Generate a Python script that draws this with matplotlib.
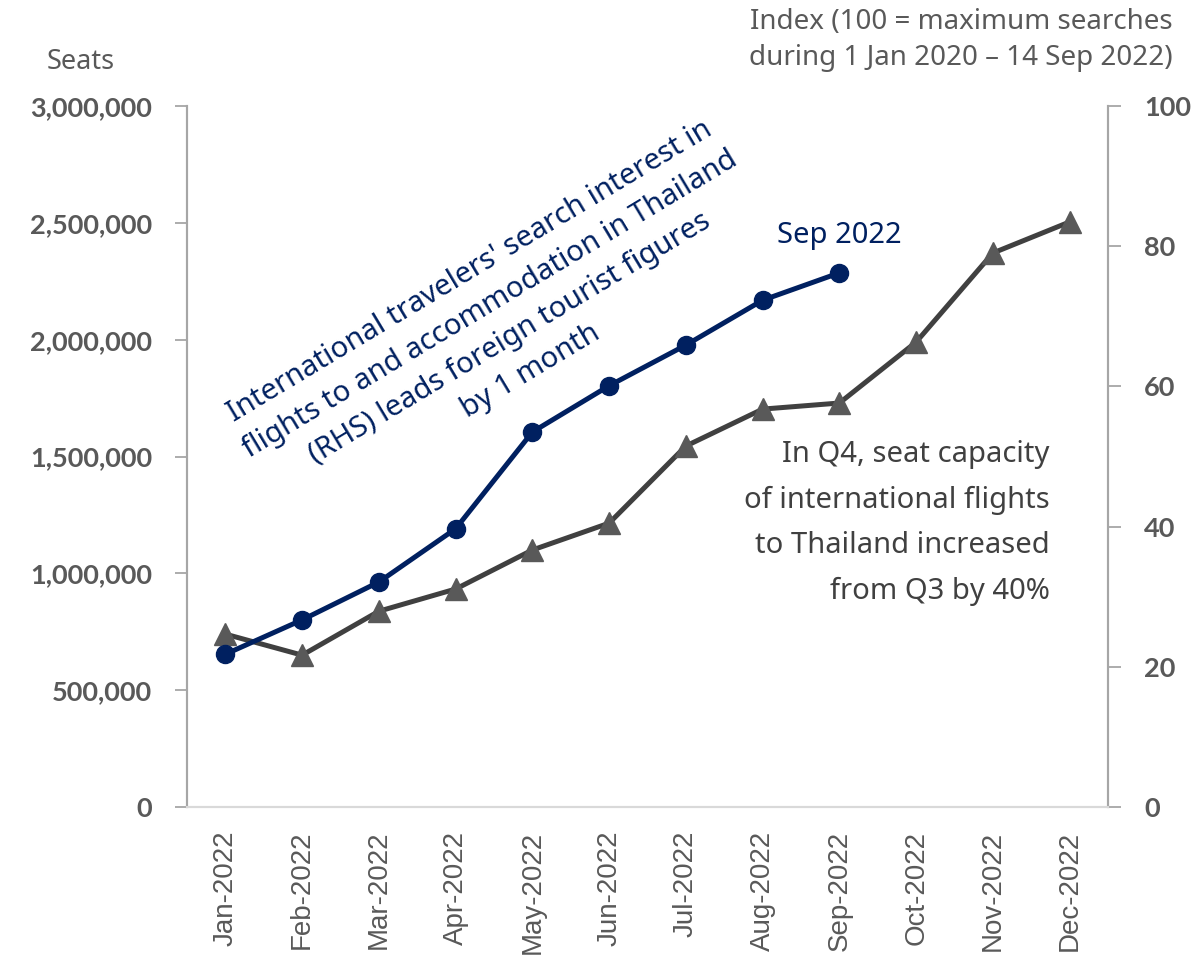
import matplotlib.pyplot as plt
import numpy as np

months = ["Jan-2022", "Feb-2022", "Mar-2022", "Apr-2022", "May-2022", "Jun-2022",
          "Jul-2022", "Aug-2022", "Sep-2022", "Oct-2022", "Nov-2022", "Dec-2022"]

# seat capacity of international flights (LHS)
seats = [740000, 650000, 838000, 933000, 1100000, 1215000,
         1545000, 1703000, 1729000, 1990000, 2371000, 2504000]

# search interest index (RHS), available through Sep
search_index = [21.8, 26.7, 32.1, 39.7, 53.5, 60.1, 65.9, 72.3, 76.2]

left_ticks = [0, 500000, 1000000, 1500000, 2000000, 2500000, 3000000]
right_ticks = [0, 20, 40, 60, 80, 100]

NAVY = "#002060"
DARK = "#404040"
TRI = "#595959"
TXT = "#595959"
SPINE = "#A6A6A6"

plt.rcParams["font.family"] = ["Noto Sans", "DejaVu Sans"]

fig = plt.figure(figsize=(12.01, 9.57), dpi=100)
ax = fig.add_axes([0.1557, 0.1567, 0.7669, 0.7325])
ax2 = ax.twinx()

x = np.arange(len(months))
ax.plot(x, seats, color=DARK, lw=3.6, marker="^", ms=16,
        markerfacecolor=TRI, markeredgecolor=TRI, zorder=3)
ax2.plot(x[:len(search_index)], search_index, color=NAVY, lw=3.6, marker="o",
         ms=13, markerfacecolor=NAVY, markeredgecolor=NAVY, zorder=4)

ax.set_xlim(-0.5, len(months) - 0.5)
ax.set_ylim(0, 3000000)
ax2.set_ylim(0, 100)

tick_font = dict(family=["Lato", "DejaVu Sans"], fontweight="bold",
                 fontsize=19.5, color=TXT)
ax.set_yticks(left_ticks)
ax.set_yticklabels([f"{v:,}" for v in left_ticks], **tick_font)
ax2.set_yticks(right_ticks)
ax2.set_yticklabels([str(v) for v in right_ticks], **tick_font)

ax.set_xticks(x)
ax.set_xticklabels(months, rotation=90, fontsize=20, color=TXT,
                   family=["Liberation Sans", "DejaVu Sans"])
ax.tick_params(axis="x", length=0, pad=17)
ax.tick_params(axis="y", length=9, width=1.3, color=SPINE, pad=16)
ax2.tick_params(axis="y", length=9, width=1.3, color=SPINE, pad=17)

for a in (ax, ax2):
    a.spines["top"].set_visible(False)
    a.spines["left"].set_color(SPINE)
    a.spines["right"].set_color(SPINE)
    a.spines["left"].set_linewidth(1.5)
    a.spines["right"].set_linewidth(1.5)
    a.spines["bottom"].set_color("#D9D9D9")
    a.spines["bottom"].set_linewidth(1.5)

# axis titles
fig.text(81 / 1201, 1 - 62 / 957, "Seats", ha="center", va="center",
         fontsize=19.5, color=TXT, fontweight="light")
fig.text(1173 / 1201, 1 - 40 / 957,
         "Index (100 = maximum searches\nduring 1 Jan 2020 \u2013 14 Sep 2022)",
         ha="right", va="center", fontsize=20, color=TXT, fontweight="light",
         linespacing=1.4)

# annotations
ax2.text(3.58, 69.3,
         "International travelers' search interest in\n"
         "flights to and accommodation in Thailand\n"
         "(RHS) leads foreign tourist figures\n"
         "by 1 month",
         ha="center", va="center", rotation=31, rotation_mode="anchor",
         fontsize=21, color=NAVY, linespacing=1.45)
ax2.text(8.0, 81.5, "Sep 2022", ha="center", va="center", fontsize=21,
         color=NAVY)
ax.text(10.74, 1215000,
        "In Q4, seat capacity\nof international flights\nto Thailand increased\nfrom Q3 by 40%",
        ha="right", va="center", fontsize=21, color=DARK, linespacing=1.75)

fig.savefig("out.png", dpi=100)
